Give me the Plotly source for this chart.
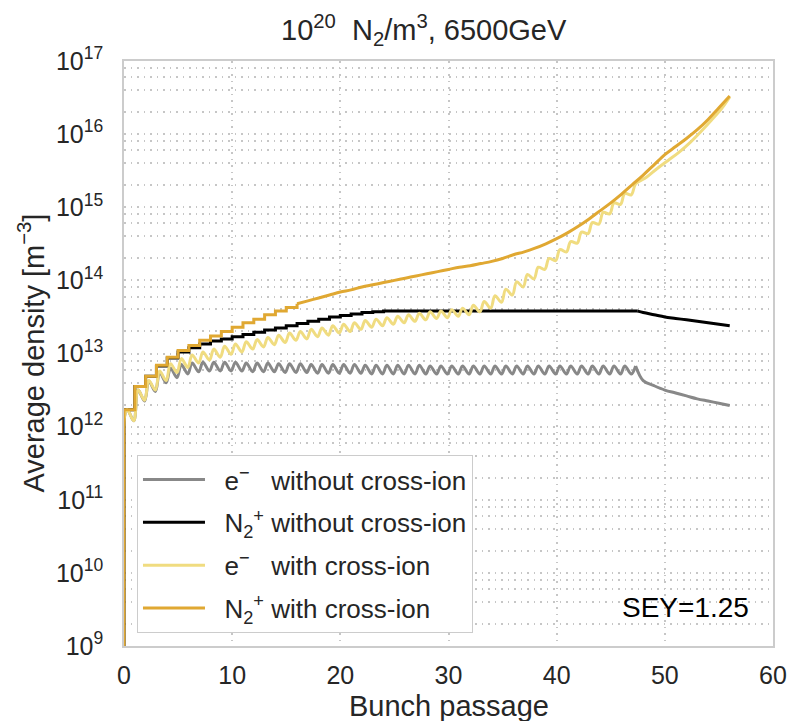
import plotly.graph_objects as go

# ---------------- data (log10 of average density) ----------------
bunch = list(range(57))  # bunch passage index 0..56
start_log10 = 8.0        # value before first passage (below axis floor)

# N2+ with cross-ion (level after each passage)
n2_cross_log10 = [12.23, 12.55, 12.69, 12.84, 12.95, 13.04, 13.11, 13.18, 13.24, 13.30,
                  13.36, 13.42, 13.47, 13.53, 13.58, 13.63, 13.68, 13.72, 13.76, 13.80,
                  13.84, 13.87, 13.91, 13.94, 13.97, 14.00, 14.03, 14.06, 14.09, 14.12,
                  14.15, 14.18, 14.20, 14.23, 14.26, 14.30, 14.35, 14.39, 14.44, 14.50,
                  14.57, 14.65, 14.74, 14.84, 14.95, 15.06, 15.18, 15.31, 15.44, 15.58,
                  15.72, 15.83, 15.94, 16.06, 16.20, 16.36, 16.52]

# N2+ without cross-ion
n2_nocross_log10 = [12.23, 12.55, 12.69, 12.83, 12.94, 13.02, 13.08, 13.13, 13.17, 13.20,
                    13.23, 13.26, 13.29, 13.32, 13.35, 13.38, 13.41, 13.44, 13.47, 13.50,
                    13.52, 13.54, 13.56, 13.57, 13.58, 13.58, 13.58, 13.58, 13.58, 13.58,
                    13.58, 13.58, 13.58, 13.58, 13.58, 13.58, 13.58, 13.58, 13.58, 13.58,
                    13.58, 13.58, 13.58, 13.58, 13.58, 13.58, 13.58, 13.58, 13.56, 13.53,
                    13.50, 13.48, 13.46, 13.44, 13.42, 13.40, 13.38]

# e- without cross-ion: peaks / troughs within each bunch interval, then decay tail
e_nocross_peak_log10 = [12.23, 12.50, 12.62, 12.74, 12.80, 12.85, 12.87, 12.88, 12.88, 12.88,
                        12.88, 12.87, 12.87, 12.87, 12.86, 12.86, 12.86, 12.85, 12.85, 12.85,
                        12.85, 12.85, 12.84, 12.84, 12.84, 12.84, 12.84, 12.84, 12.83, 12.83,
                        12.83, 12.83, 12.83, 12.83, 12.83, 12.83, 12.83, 12.83, 12.83, 12.83,
                        12.83, 12.83, 12.83, 12.83, 12.83, 12.83, 12.83, 12.83]
e_nocross_trough_log10 = [12.08, 12.35, 12.48, 12.60, 12.67, 12.72, 12.75, 12.76, 12.76, 12.76,
                          12.76, 12.75, 12.75, 12.75, 12.74, 12.74, 12.74, 12.73, 12.73, 12.73,
                          12.73, 12.73, 12.72, 12.72, 12.72, 12.72, 12.72, 12.72, 12.72, 12.72,
                          12.72, 12.72, 12.72, 12.72, 12.72, 12.72, 12.72, 12.72, 12.72, 12.72,
                          12.72, 12.72, 12.72, 12.72, 12.72, 12.72, 12.72]
e_nocross_tail_bunch = [48, 49, 50, 51, 52, 53, 54, 55, 56]
e_nocross_tail_log10 = [12.63, 12.56, 12.50, 12.46, 12.42, 12.38, 12.35, 12.32, 12.29]

# e- with cross-ion (oscillation dies out after passage 47)
e_cross_peak_log10 = [12.23, 12.50, 12.63, 12.76, 12.86, 12.93, 12.98, 13.02, 13.06, 13.10,
                      13.13, 13.16, 13.19, 13.22, 13.25, 13.28, 13.30, 13.33, 13.35, 13.38,
                      13.40, 13.42, 13.45, 13.47, 13.49, 13.51, 13.53, 13.55, 13.57, 13.58,
                      13.60, 13.62, 13.66, 13.71, 13.79, 13.88, 13.98, 14.08, 14.18, 14.30,
                      14.42, 14.53, 14.66, 14.79, 14.93, 15.06, 15.19, 15.32, 15.41, 15.53,
                      15.64, 15.75, 15.88, 16.03, 16.19, 16.36, 16.51]
e_cross_trough_log10 = [12.08, 12.36, 12.50, 12.63, 12.74, 12.81, 12.87, 12.91, 12.95, 12.99,
                        13.02, 13.06, 13.09, 13.12, 13.15, 13.18, 13.20, 13.23, 13.25, 13.28,
                        13.30, 13.33, 13.36, 13.38, 13.40, 13.42, 13.44, 13.46, 13.48, 13.49,
                        13.51, 13.53, 13.57, 13.62, 13.70, 13.80, 13.91, 14.02, 14.15, 14.27,
                        14.39, 14.51, 14.64, 14.77, 14.91, 15.04, 15.17]

stair_end_cross = 16     # ion curve looks smooth after this passage
stair_end_nocross = 47

x_ticks = [0, 10, 20, 30, 40, 50, 60]
y_decades = [9, 10, 11, 12, 13, 14, 15, 16, 17]
y_minor_mult = [2, 4, 6, 8]

# ---------------- styles ----------------
C_GRAY = "#888888"
C_BLACK = "#000000"
C_LIGHT = "#F0DC80"
C_GOLD = "#E0A832"
LW = 3
FONT = "Liberation Sans, Arial, sans-serif"
TXT = "#262626"
GRID_C = "#c6c6c6"
GRID_DASH = "1.5px,5px"

p = lambda v: 10 ** v


def osc_xy(peaks, troughs):
    xs, ys = [0], [p(start_log10)]
    for i, pk in enumerate(peaks):
        xs.append(min(bunch[i] + 0.3, bunch[-1]))
        ys.append(p(pk))
        if i < len(troughs):
            xs.append(bunch[i] + 0.9)
            ys.append(p(troughs[i]))
    return xs, ys


fig = go.Figure()

E_LBL = "\u00a0\u00a0e<sup>−</sup>\u00a0\u00a0\u00a0"
N_LBL = "\u00a0\u00a0N<sub>2</sub><sup>+</sup>\u00a0"

# e- without cross-ion
gx, gy = osc_xy(e_nocross_peak_log10, e_nocross_trough_log10)
fig.add_trace(go.Scatter(x=gx, y=gy, mode="lines", line=dict(color=C_GRAY, width=LW, shape="spline", smoothing=1),
                         name=E_LBL + "without cross-ion", legendgroup="g1"))
fig.add_trace(go.Scatter(x=[gx[-1]] + e_nocross_tail_bunch, y=[gy[-1]] + [p(v) for v in e_nocross_tail_log10],
                         mode="lines", line=dict(color=C_GRAY, width=LW, shape="spline"),
                         showlegend=False, legendgroup="g1"))

# N2+ without cross-ion
k = stair_end_nocross
fig.add_trace(go.Scatter(x=[0] + bunch[:k + 1] + [k + 0.5],
                         y=[p(start_log10)] + [p(v) for v in n2_nocross_log10[:k + 1]] + [p(n2_nocross_log10[k])],
                         mode="lines", line=dict(color=C_BLACK, width=LW, shape="hv"),
                         name=N_LBL + "without cross-ion", legendgroup="g2"))
fig.add_trace(go.Scatter(x=[k + 0.5] + bunch[k + 1:], y=[p(n2_nocross_log10[k])] + [p(v) for v in n2_nocross_log10[k + 1:]],
                         mode="lines", line=dict(color=C_BLACK, width=LW, shape="spline"),
                         showlegend=False, legendgroup="g2"))

# e- with cross-ion
yx, yy = osc_xy(e_cross_peak_log10, e_cross_trough_log10)
fig.add_trace(go.Scatter(x=yx, y=yy, mode="lines", line=dict(color=C_LIGHT, width=LW, shape="spline", smoothing=1),
                         name=E_LBL + "with cross-ion", legendgroup="g3"))

# N2+ with cross-ion
k = stair_end_cross
fig.add_trace(go.Scatter(x=[0] + bunch[:k + 1], y=[p(start_log10)] + [p(v) for v in n2_cross_log10[:k + 1]],
                         mode="lines", line=dict(color=C_GOLD, width=LW, shape="hv"),
                         name=N_LBL + "with cross-ion", legendgroup="g4"))
fig.add_trace(go.Scatter(x=bunch[k:], y=[p(v) for v in n2_cross_log10[k:]],
                         mode="lines", line=dict(color=C_GOLD, width=LW, shape="spline"),
                         showlegend=False, legendgroup="g4"))

# y ticks: decades labelled, minor grid at 2,4,6,8
y_tickvals, y_ticktext = [], []
for d in y_decades:
    y_tickvals.append(p(d))
    y_ticktext.append("10<sup>%d</sup>" % d)
    if d < y_decades[-1]:
        for m in y_minor_mult:
            y_tickvals.append(m * p(d))
            y_ticktext.append("")

fig.update_layout(
    width=788, height=721,
    margin=dict(l=124, r=15, t=61, b=75),
    paper_bgcolor="white", plot_bgcolor="white",
    font=dict(family=FONT, size=25, color=TXT),
    xaxis=dict(range=[0, 60], tickvals=x_ticks, ticks="outside", ticklen=6, tickcolor="rgba(0,0,0,0)",
               showline=True, mirror=True, linecolor="#cccccc", linewidth=1.5, zeroline=False,
               automargin=False, tickfont=dict(size=25),
               showgrid=True, gridcolor=GRID_C, gridwidth=1.5, griddash=GRID_DASH),
    yaxis=dict(type="log", range=[9, 17], tickmode="array", tickvals=y_tickvals, ticktext=y_ticktext,
               ticks="outside", ticklen=14, tickcolor="rgba(0,0,0,0)",
               showline=True, mirror=True, linecolor="#cccccc", linewidth=1.5, zeroline=False,
               automargin=False, tickfont=dict(size=25),
               showgrid=True, gridcolor=GRID_C, gridwidth=1.5, griddash=GRID_DASH),
    legend=dict(x=0.02, y=0.022, xanchor="left", yanchor="bottom", bgcolor="white",
                bordercolor="#cccccc", borderwidth=1, traceorder="grouped", tracegroupgap=6,
                font=dict(size=26, color=TXT), itemwidth=62),
    showlegend=True,
)

# title and axis titles
fig.add_annotation(text="10<sup>20</sup>  N<sub>2</sub>/m<sup>3</sup>, 6500GeV", xref="paper", yref="paper",
                   x=0.463, y=1 + 31 / 585, xanchor="center", yanchor="middle", showarrow=False,
                   font=dict(size=29, color=TXT))
fig.add_annotation(text="Bunch passage", xref="paper", yref="paper", x=0.5, y=-60 / 585,
                   xanchor="center", yanchor="middle", showarrow=False, font=dict(size=29, color=TXT))
fig.add_annotation(text="Average density [m<sup>−3</sup>]", xref="paper", yref="paper", x=-93 / 649, y=0.5,
                   xanchor="center", yanchor="middle", textangle=-90, showarrow=False,
                   font=dict(size=29, color=TXT))
fig.add_annotation(text="SEY=1.25", xref="paper", yref="paper", x=(685 - 124) / 649, y=(646 - 607) / 585,
                   xanchor="center", yanchor="middle", showarrow=False, font=dict(size=28, color="#000000"))

# remove the browser's default page margin so the 788x721 figure fills the window exactly
fig.write_html("out.html", config={"displayModeBar": False},
               post_script="document.body.style.margin='0';document.body.style.overflow='hidden';")
